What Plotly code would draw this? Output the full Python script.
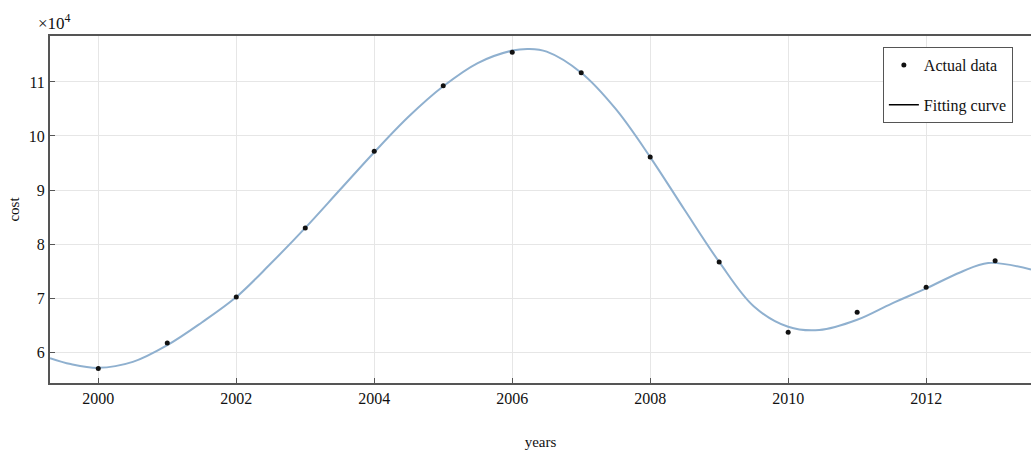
import plotly.graph_objects as go

# Actual data (cost in units of 10^4)
years = list(range(2000, 2014))
cost = [5.70, 6.17, 7.02, 8.30, 9.72, 10.93, 11.55, 11.17, 9.61, 7.67, 6.37, 6.74, 7.20, 7.69]

# Fitting curve
fit_x = [1999.3, 1999.6, 2000.0, 2000.5, 2001.0, 2001.5, 2002.0, 2002.5, 2003.0, 2003.5,
         2004.0, 2004.5, 2005.0, 2005.5, 2006.0, 2006.25, 2006.5, 2007.0, 2007.5, 2008.0,
         2008.5, 2009.0, 2009.5, 2010.0, 2010.45, 2011.0, 2011.5, 2012.0, 2012.5,
         2012.9, 2013.52]
fit_y = [5.89, 5.78, 5.71, 5.82, 6.13, 6.55, 7.02, 7.64, 8.30, 9.00,
         9.70, 10.36, 10.92, 11.35, 11.58, 11.61, 11.56, 11.17, 10.50, 9.61,
         8.63, 7.67, 6.85, 6.47, 6.41, 6.60, 6.90, 7.18, 7.48,
         7.65, 7.53]

x_ticks = [2000, 2002, 2004, 2006, 2008, 2010, 2012]
y_ticks = [6, 7, 8, 9, 10, 11]

FONT = "Liberation Serif"

fig = go.Figure()
fig.add_trace(go.Scatter(x=fit_x, y=fit_y, mode="lines",
                         line=dict(color="#8fb0cf", width=2, shape="spline", smoothing=1.0),
                         showlegend=False, hoverinfo="skip"))
fig.add_trace(go.Scatter(x=years, y=cost, mode="markers", name="Actual data", legendgroup="a",
                         marker=dict(color="#111111", size=5)))
fig.add_trace(go.Scatter(x=[None], y=[None], mode="lines", name="Fitting curve", legendgroup="b",
                         line=dict(color="#000000", width=1.5)))

fig.update_layout(
    width=1031, height=456,
    margin=dict(l=50, r=0, t=36, b=73),
    paper_bgcolor="white", plot_bgcolor="white",
    font=dict(family=FONT, size=16, color="#111111"),
    showlegend=True,
    legend=dict(x=0.849, y=0.968, xanchor="left", yanchor="top",
                bgcolor="white", bordercolor="#555555", borderwidth=1,
                font=dict(family=FONT, size=16), tracegroupgap=16, itemwidth=30,
                entrywidth=200),
    xaxis=dict(range=[1999.3, 2013.52], tickvals=x_ticks, ticktext=[str(t) for t in x_ticks],
               automargin=False,
               showgrid=True, gridcolor="#e6e6e6", gridwidth=1, zeroline=False,
               showline=True, linecolor="#555555", linewidth=1.5, mirror=True,
               ticks="inside", ticklen=5, tickcolor="#555555",
               title=dict(text="years", font=dict(family=FONT, size=15), standoff=31),
               tickfont=dict(family=FONT, size=16)),
    yaxis=dict(range=[5.43, 11.85], tickvals=y_ticks, ticktext=[str(t) for t in y_ticks],
               automargin=False,
               showgrid=True, gridcolor="#e6e6e6", gridwidth=1, zeroline=False,
               showline=True, linecolor="#555555", linewidth=2, mirror=True,
               ticks="inside", ticklen=5, tickcolor="#555555",
               title=dict(text="cost", font=dict(family=FONT, size=15), standoff=6),
               tickfont=dict(family=FONT, size=16)),
    annotations=[dict(text="×10<sup>4</sup>", xref="paper", yref="paper", x=-0.014, y=1.0,
                      xanchor="left", yanchor="bottom", showarrow=False,
                      font=dict(family=FONT, size=17), yshift=1)],
)

fig.write_html("out.html", config={"displayModeBar": False},
               post_script="document.body.style.margin='0';document.body.style.overflow='hidden';")
